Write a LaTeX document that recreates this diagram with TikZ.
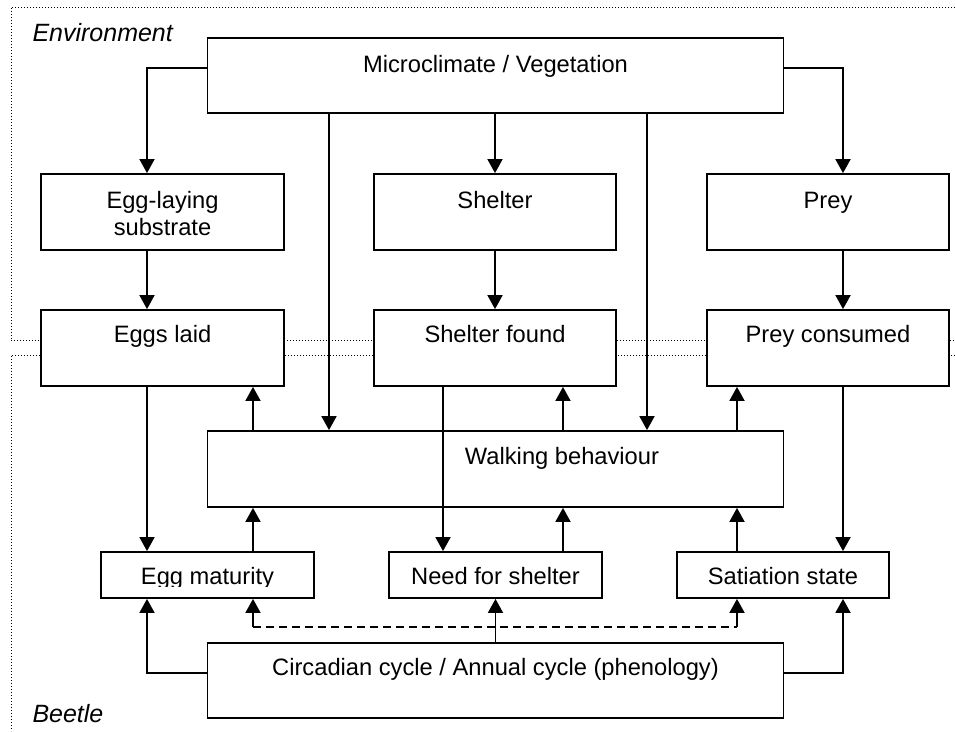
\documentclass[tikz,border=0pt]{standalone}
\usepackage{fontspec}
\setmainfont{Liberation Sans}
\usetikzlibrary{arrows.meta}
\begin{document}
\begin{tikzpicture}[x=1pt,y=-1pt,
  box/.style={draw=black, line width=1.8pt, fill=white, inner sep=0pt, rectangle},
  txt/.style={inner sep=0pt, anchor=base, font=\fontsize{23.7}{27.5}\selectfont},
  lbl/.style={inner sep=0pt, anchor=base west, font=\fontsize{25}{28}\selectfont\itshape},
  arr/.style={line width=1.8pt, -{Triangle[length=14pt,width=15pt]}},
  dashline/.style={line width=1.8pt, dash pattern=on 8pt off 5pt},
  dotline/.style={line width=1pt, dash pattern=on 1pt off 2pt, black}]
\useasboundingbox (0,0) rectangle (955,731);
% dotted boundaries
\draw[dotline] (955,7) -- (11,7) -- (11,340.7) -- (955,340.7);
\draw[dotline] (955,355) -- (11,355) -- (11,731);
\node[lbl] (env) at (32.3,41.7) {Environment};
\node[lbl] (beetle) at (32.3,722.7) {Beetle};
% helper coordinates
\coordinate (xA) at (147,0);
\coordinate (xB) at (253,0);
\coordinate (xC) at (329,0);
\coordinate (xD) at (443,0);
\coordinate (xE) at (563,0);
\coordinate (xF) at (647,0);
\coordinate (xG) at (737,0);
\coordinate (xH) at (843,0);
\coordinate (yM) at (0,68);
\coordinate (yC) at (0,673);
\coordinate (yD) at (0,627);
% boxes
\node[box, minimum width=576, minimum height=75] (micro) at (495.5,75.5) {};
\node[box, minimum width=243, minimum height=76] (sub) at (162.5,212) {};
\node[box, minimum width=242, minimum height=76] (shel) at (495,212) {};
\node[box, minimum width=242, minimum height=76] (prey) at (828,212) {};
\node[box, minimum width=243, minimum height=76] (eggs) at (162.5,348) {};
\node[box, minimum width=242, minimum height=76] (shf) at (495,348) {};
\node[box, minimum width=242, minimum height=76] (prc) at (828,348) {};
\node[box, minimum width=576, minimum height=76] (walk) at (495.5,469) {};
\node[box, minimum width=213, minimum height=46] (em) at (207.5,575) {};
\node[box, minimum width=213, minimum height=46] (nfs) at (495.5,575) {};
\node[box, minimum width=212, minimum height=46] (sat) at (783,575) {};
\node[box, minimum width=576, minimum height=75] (circ) at (495.5,680.5) {};
% texts
\node[txt] (tmicro) at (495.5,72) {Microclimate / Vegetation};
\node[txt, anchor=north, align=center] (tsub) at (162.5,190.7) {Egg-laying\\substrate};
\node[txt] (tshel) at (495,208.5) {Shelter};
\node[txt] (tprey) at (828,208.5) {Prey};
\node[txt] (teggs) at (162.5,342.7) {Eggs laid};
\node[txt] (tshf) at (495,342.7) {Shelter found};
\node[txt] (tprc) at (828,342.7) {Prey consumed};
\node[txt] (twalk) at (562,464.5) {Walking behaviour};
\begin{scope}
\clip (101,552) rectangle (314,586);
\node[txt] (tem) at (207.5,584.5) {Egg maturity};
\end{scope}
\node[txt] (tnfs) at (495.5,584.5) {Need for shelter};
\node[txt] (tsat) at (783,584.5) {Satiation state};
\node[txt] (tcirc) at (495.5,675) {Circadian cycle / Annual cycle (phenology)};
% connectors
\draw[arr] (micro.west |- yM) -| (sub.north -| xA);
\draw[arr] (micro.east |- yM) -| (prey.north -| xH);
\draw[arr] (micro.south -| shel.north) -- (shel.north);
\draw[arr] (micro.south -| xC) -- (walk.north -| xC);
\draw[arr] (micro.south -| xF) -- (walk.north -| xF);
\draw[arr] (sub.south -| xA) -- (eggs.north -| xA);
\draw[arr] (shel.south) -- (shf.north);
\draw[arr] (prey.south -| xH) -- (prc.north -| xH);
\draw[arr] (walk.north -| xB) -- (eggs.south -| xB);
\draw[arr] (walk.north -| xE) -- (shf.south -| xE);
\draw[arr] (walk.north -| xG) -- (prc.south -| xG);
\draw[arr] (eggs.south -| xA) -- (em.north -| xA);
\draw[arr] (shf.south -| xD) -- (nfs.north -| xD);
\draw[arr] (prc.south -| xH) -- (sat.north -| xH);
\draw[arr] (em.north -| xB) -- (walk.south -| xB);
\draw[arr] (nfs.north -| xE) -- (walk.south -| xE);
\draw[arr] (sat.north -| xG) -- (walk.south -| xG);
\draw[arr] (circ.west |- yC) -| (em.south -| xA);
\draw[arr] (circ.east |- yC) -| (sat.south -| xH);
\draw[arr] (circ.north -| nfs.south) -- (nfs.south);
\draw[dashline] (xB |- yD) -- (xG |- yD);
\draw[arr] (xB |- yD) -- (em.south -| xB);
\draw[arr] (xG |- yD) -- (sat.south -| xG);
\end{tikzpicture}
\end{document}
